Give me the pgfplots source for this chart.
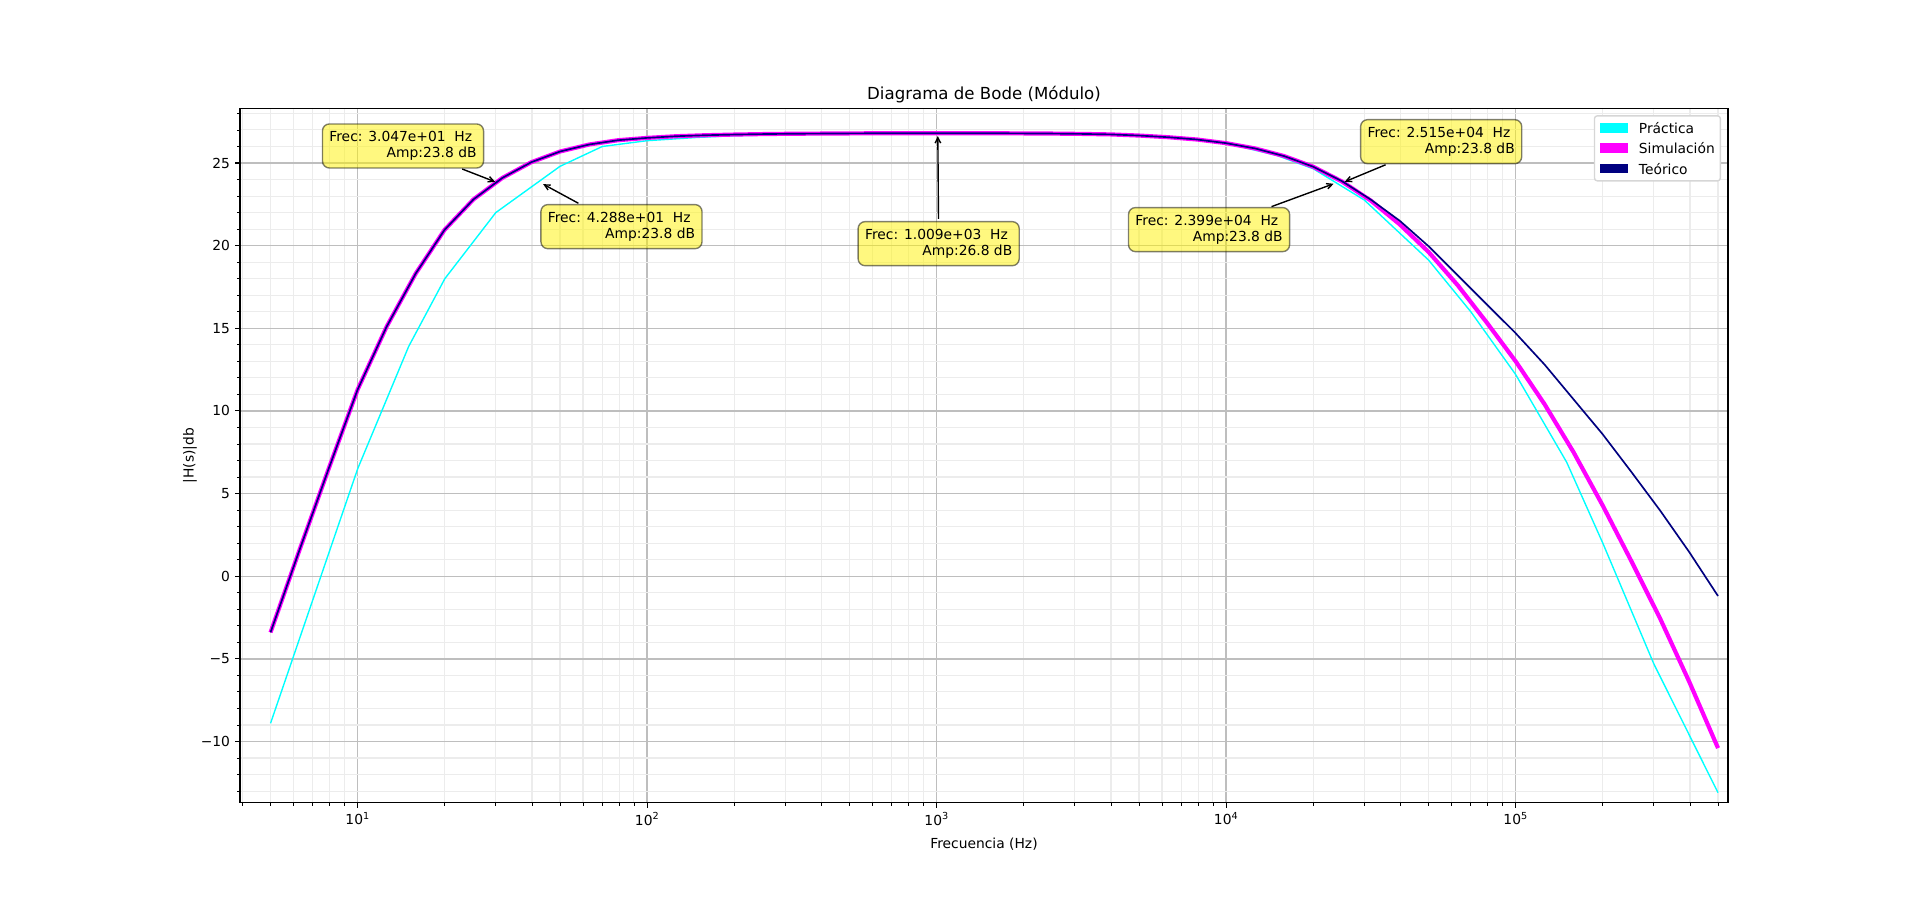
\documentclass[border=0pt]{standalone}
\usepackage{fontspec}
\setmainfont{DejaVu Sans}
\usepackage{pgfplots}
\pgfplotsset{compat=1.18}
\usetikzlibrary{arrows.meta}

\definecolor{practica}{RGB}{0,255,255}
\definecolor{simul}{RGB}{255,0,255}
\definecolor{teorico}{RGB}{0,0,128}
\definecolor{majgrid}{RGB}{190,190,190}
\definecolor{mingrid}{RGB}{236,236,236}
\definecolor{legedge}{RGB}{214,214,214}

\tikzset{
  annot/.style={draw=black, draw opacity=0.5, fill=yellow, fill opacity=0.5, text opacity=1,
    rounded corners=5bp, line width=1bp, inner xsep=5bp, inner ysep=5.4bp, outer sep=0pt,
    align=right, font=\fontsize{10}{11.5}\selectfont},
  annarrow/.style={-{Straight Barb[length=4bp,width=4bp]}, line width=1bp, black,
    shorten <=2bp, shorten >=2bp}
}

\begin{document}
\begin{tikzpicture}[font=\fontsize{10}{12}\selectfont]
\useasboundingbox (0,0) rectangle (1382.4bp,649.44bp);
\begin{axis}[
  name=ax, at={(172.8bp,71.42bp)}, anchor=south west,
  scale only axis, width=1071.36bp, height=500.1bp,
  xmode=log, xmin=3.922, xmax=5.413e5, ymin=-13.71, ymax=28.315,
  clip mode=individual,
  xtick={10,100,1000,10000,100000},
  xticklabels={10\textsuperscript{1},10\textsuperscript{2},10\textsuperscript{3},10\textsuperscript{4},10\textsuperscript{5}},
  minor xtick={4,5,6,7,8,9,20,30,40,50,60,70,80,90,200,300,400,500,600,700,800,900,2000,3000,4000,5000,6000,7000,8000,9000,20000,30000,40000,50000,60000,70000,80000,90000,200000,300000,400000,500000},
  ytick={-10,-5,0,5,10,15,20,25},
  yticklabels={−10,−5,0,5,10,15,20,25},
  minor ytick={-13,-12,-11,-9,-8,-7,-6,-4,-3,-2,-1,1,2,3,4,6,7,8,9,11,12,13,14,16,17,18,19,21,22,23,24,26,27,28},
  grid=both,
  major grid style={draw=majgrid, line width=1bp},
  minor grid style={draw=mingrid, line width=0.8bp},
  tick align=outside, xtick pos=bottom, ytick pos=left,
  major tick length=3.5bp, minor tick length=2bp,
  tick style={black, line width=0.8bp},
  minor tick style={line width=0.6bp},
  axis line style={line width=0.8bp, black},
  xticklabel style={anchor=north, inner sep=0bp, yshift=-3.5bp},
  yticklabel style={anchor=east, inner sep=0bp, xshift=-3.5bp},
  legend style={at={(1,1)}, anchor=north east, xshift=-5bp, yshift=-5bp,
    draw=legedge, line width=1bp, fill=white, rounded corners=2bp,
    inner xsep=4bp, inner ysep=3.8bp, row sep=4.6bp,
    font=\fontsize{10}{12}\selectfont,
    nodes={inner sep=0bp, text height=9bp, text depth=1bp},
    /tikz/column 1/.style={column sep=8bp}},
  legend cell align=left,
  legend image code/.code={\fill[sharp corners, draw=none] (0bp,-3.5bp) rectangle (20bp,3.5bp);},
]
\addplot[color=practica, line width=1bp, line join=round] table[row sep=\\] {
f v\\
5 -8.9\\ 10 6.5\\ 15 13.9\\ 20 18.0\\ 30 22.0\\ 50 24.8\\ 70 26.0\\ 100 26.35\\
150 26.55\\ 200 26.65\\ 300 26.72\\ 500 26.75\\ 700 26.77\\ 1000 26.78\\ 2000 26.78\\
3000 26.76\\ 5000 26.65\\ 7000 26.5\\ 10000 26.2\\ 15000 25.45\\ 20000 24.65\\
30000 22.76\\ 50000 19.13\\ 70000 16.0\\ 100000 12.2\\ 150000 6.9\\ 200000 2.0\\
300000 -5.3\\ 500000 -13.1\\
};
\addlegendentry{Práctica}
\addplot[color=simul, line width=3bp, line join=round] table[row sep=\\] {
f v\\
5 -3.4\\ 6.3 1.6\\ 7.94 6.5\\ 10 11.3\\ 12.59 15.1\\ 15.85 18.3\\ 19.95 20.95\\
25.12 22.8\\ 31.62 24.1\\ 39.81 25.05\\ 50.12 25.7\\ 63.1 26.12\\ 79.43 26.38\\
100 26.52\\ 125.9 26.62\\ 158.5 26.68\\ 199.5 26.72\\ 251.2 26.75\\ 316.2 26.77\\
398.1 26.78\\ 501.2 26.79\\ 631 26.8\\ 794.3 26.8\\ 1000 26.8\\ 1259 26.8\\
1585 26.8\\ 1995 26.79\\ 2512 26.78\\ 3162 26.76\\ 3981 26.73\\ 5012 26.66\\
6310 26.56\\ 7943 26.42\\ 10000 26.2\\ 12589 25.88\\ 15849 25.42\\ 19953 24.78\\
25119 23.88\\ 31623 22.72\\ 39811 21.28\\ 50119 19.6\\ 63096 17.6\\ 79433 15.35\\
100000 13.0\\ 125893 10.4\\ 158489 7.5\\ 199526 4.3\\ 251189 0.9\\ 316228 -2.6\\
398107 -6.4\\ 500000 -10.4\\
};
\addlegendentry{Simulación}
\addplot[color=teorico, line width=1.2bp, line join=round] table[row sep=\\] {
f v\\
5 -3.4\\ 6.3 1.6\\ 7.94 6.5\\ 10 11.3\\ 12.59 15.1\\ 15.85 18.3\\ 19.95 20.95\\
25.12 22.8\\ 31.62 24.1\\ 39.81 25.05\\ 50.12 25.7\\ 63.1 26.12\\ 79.43 26.38\\
100 26.52\\ 125.9 26.62\\ 158.5 26.68\\ 199.5 26.72\\ 251.2 26.75\\ 316.2 26.77\\
398.1 26.78\\ 501.2 26.79\\ 631 26.8\\ 794.3 26.8\\ 1000 26.8\\ 1259 26.8\\
1585 26.8\\ 1995 26.79\\ 2512 26.78\\ 3162 26.76\\ 3981 26.73\\ 5012 26.66\\
6310 26.56\\ 7943 26.42\\ 10000 26.2\\ 12589 25.88\\ 15849 25.42\\ 19953 24.78\\
25119 23.9\\ 31623 22.78\\ 39811 21.5\\ 50119 19.95\\ 63096 18.2\\ 79433 16.45\\
100000 14.7\\ 125893 12.8\\ 158489 10.7\\ 199526 8.6\\ 251189 6.3\\ 316228 3.95\\
398107 1.45\\ 500000 -1.2\\
};
\addlegendentry{Teórico}

\node[annot] (b1) at (axis cs:14.34,26.03) {Frec: 3.047e+01~~Hz\rule{3.2bp}{0pt}\\Amp:23.8 dB};
\draw[annarrow] (b1) -- (axis cs:30.47,23.8);
\node[annot] (b2) at (axis cs:81.5,21.15) {Frec: 4.288e+01~~Hz\rule{3.2bp}{0pt}\\Amp:23.8 dB};
\draw[annarrow] (b2) -- (axis cs:42.88,23.8);
\node[annot] (b5) at (axis cs:1016,20.12) {Frec: 1.009e+03~~Hz\rule{3.2bp}{0pt}\\Amp:26.8 dB};
\draw[annarrow] (b5) -- (axis cs:1009,26.8);
\node[annot] (b4) at (axis cs:8729,20.97) {Frec: 2.399e+04~~Hz\rule{3.2bp}{0pt}\\Amp:23.8 dB};
\draw[annarrow] (b4) -- (axis cs:23990,23.8);
\node[annot] (b3) at (axis cs:55290,26.29) {Frec: 2.515e+04~~Hz\rule{3.2bp}{0pt}\\Amp:23.8 dB};
\draw[annarrow] (b3) -- (axis cs:25150,23.8);
\end{axis}
\node[anchor=base, inner sep=0pt, font=\fontsize{12}{14.4}\selectfont] at ([yshift=6bp]ax.north) {Diagrama de Bode (Módulo)};
\node[inner sep=0pt] at ([yshift=-29.45bp]ax.south) {Frecuencia (Hz)};
\node[inner sep=0pt, rotate=90] at ([xshift=-36.1bp]ax.west) {|H(s)|db};
\end{tikzpicture}
\end{document}
